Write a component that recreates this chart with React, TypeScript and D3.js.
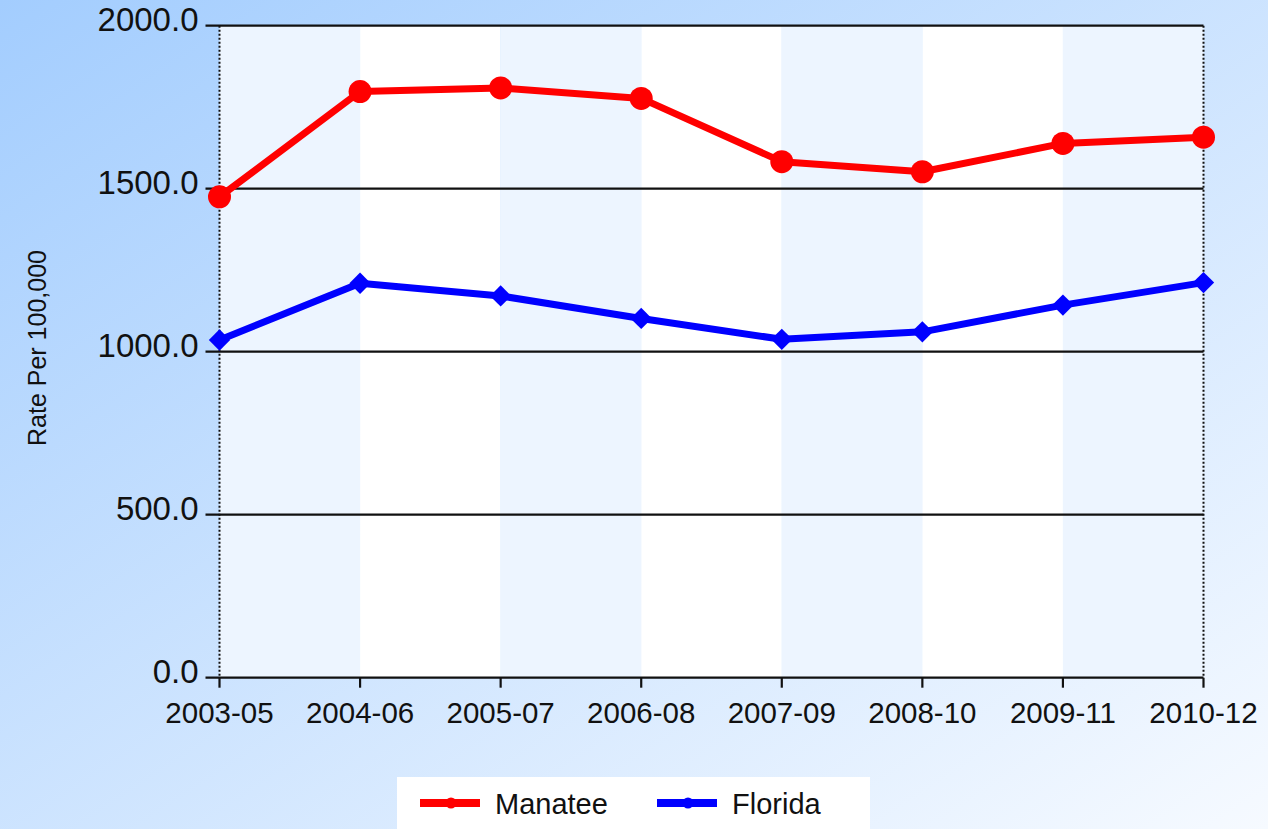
import React, { useEffect, useRef } from 'react';
import * as d3 from 'd3';

const periods = ['2003-05', '2004-06', '2005-07', '2006-08', '2007-09', '2008-10', '2009-11', '2010-12'];
const manatee = [1475, 1798, 1809, 1777, 1583, 1552, 1639, 1658];
const florida = [1036, 1210, 1171, 1102, 1038, 1061, 1143, 1212];
const yTicks = [0, 500, 1000, 1500, 2000];

const W = 1268;
const H = 829;
const FONT = '"Liberation Sans", Arial, sans-serif';

export default function App() {
    const ref = useRef<SVGSVGElement>(null);

    useEffect(() => {
        const svg = d3.select(ref.current);
        svg.selectAll('*').remove();

        const left = 219.5, right = 1203.5, top = 25.7, bottom = 677.7;

        const x = d3.scalePoint<string>().domain(periods).range([left, right]);
        const y = d3.scaleLinear().domain([0, 2000]).range([bottom, top]);

        // background gradient
        const defs = svg.append('defs');
        const grad = defs.append('linearGradient')
            .attr('id', 'bg')
            .attr('x1', '0%').attr('y1', '0%')
            .attr('x2', '100%').attr('y2', '100%');
        grad.append('stop').attr('offset', '0%').attr('stop-color', '#a3cdfe');
        grad.append('stop').attr('offset', '100%').attr('stop-color', '#f6faff');

        svg.append('rect').attr('width', W).attr('height', H).attr('fill', 'url(#bg)');

        // alternating column bands
        const step = x.step();
        svg.append('g').selectAll('rect')
            .data(periods.slice(0, -1))
            .join('rect')
            .attr('x', d => x(d)!)
            .attr('y', top)
            .attr('width', step)
            .attr('height', bottom - top)
            .attr('fill', (d, i) => (i % 2 === 0 ? '#edf5ff' : '#ffffff'));

        // horizontal grid lines + y ticks
        svg.append('g').selectAll('line')
            .data(yTicks)
            .join('line')
            .attr('x1', left - 14)
            .attr('x2', right)
            .attr('y1', d => y(d))
            .attr('y2', d => y(d))
            .attr('stroke', '#111')
            .attr('stroke-width', 2.2);

        svg.append('g').selectAll('text')
            .data(yTicks)
            .join('text')
            .attr('x', left - 21)
            .attr('y', d => y(d) - 3)
            .attr('text-anchor', 'end')
            .attr('dominant-baseline', 'middle')
            .style('font-family', FONT)
            .style('font-size', '33px')
            .attr('fill', '#111')
            .text(d => d.toFixed(1));

        // dotted vertical edges
        [left, right].forEach(xx => {
            svg.append('line')
                .attr('x1', xx).attr('x2', xx)
                .attr('y1', top).attr('y2', bottom)
                .attr('stroke', '#111')
                .attr('stroke-width', 2)
                .attr('stroke-dasharray', '2,2');
        });

        // x ticks and labels
        svg.append('g').selectAll('line')
            .data(periods)
            .join('line')
            .attr('x1', d => x(d)!)
            .attr('x2', d => x(d)!)
            .attr('y1', bottom)
            .attr('y2', bottom + 10)
            .attr('stroke', '#111')
            .attr('stroke-width', 2.2);

        svg.append('g').selectAll('text')
            .data(periods)
            .join('text')
            .attr('x', d => x(d)!)
            .attr('y', bottom + 45)
            .attr('text-anchor', 'middle')
            .style('font-family', FONT)
            .style('font-size', '29.5px')
            .attr('fill', '#111')
            .text(d => d);

        // y axis title
        svg.append('text')
            .attr('transform', `translate(46, 348) rotate(-90)`)
            .attr('text-anchor', 'middle')
            .style('font-family', FONT)
            .style('font-size', '25px')
            .attr('fill', '#111')
            .text('Rate Per 100,000');

        const line = d3.line<number>()
            .x((d, i) => x(periods[i])!)
            .y(d => y(d));

        // Manatee
        svg.append('path')
            .datum(manatee)
            .attr('fill', 'none')
            .attr('stroke', '#ff0000')
            .attr('stroke-width', 7)
            .attr('stroke-linejoin', 'round')
            .attr('d', line);
        svg.append('g').selectAll('circle')
            .data(manatee)
            .join('circle')
            .attr('cx', (d, i) => x(periods[i])!)
            .attr('cy', d => y(d))
            .attr('r', 11.5)
            .attr('fill', '#ff0000');

        // Florida
        svg.append('path')
            .datum(florida)
            .attr('fill', 'none')
            .attr('stroke', '#0000ff')
            .attr('stroke-width', 7)
            .attr('stroke-linejoin', 'round')
            .attr('d', line);
        const diamond = d3.symbol().type(d3.symbolDiamond2).size(290);
        svg.append('g').selectAll('path')
            .data(florida)
            .join('path')
            .attr('transform', (d, i) => `translate(${x(periods[i])},${y(d)})`)
            .attr('d', diamond)
            .attr('fill', '#0000ff');

        // legend
        const legend = svg.append('g');
        legend.append('rect')
            .attr('x', 397).attr('y', 777)
            .attr('width', 473).attr('height', 60)
            .attr('fill', '#ffffff');

        const items = [
            { name: 'Manatee', color: '#ff0000', x0: 420, tx: 495 },
            { name: 'Florida', color: '#0000ff', x0: 657, tx: 732 },
        ];
        items.forEach(it => {
            legend.append('line')
                .attr('x1', it.x0).attr('x2', it.x0 + 60)
                .attr('y1', 803).attr('y2', 803)
                .attr('stroke', it.color)
                .attr('stroke-width', 8);
            legend.append('circle')
                .attr('cx', it.x0 + 31).attr('cy', 803)
                .attr('r', 5.5)
                .attr('fill', it.color);
            legend.append('text')
                .attr('x', it.tx)
                .attr('y', 814)
                .style('font-family', FONT)
                .style('font-size', '29px')
                .attr('fill', '#111')
                .text(it.name);
        });
    }, []);

    return (
        <svg
            ref={ref}
            width={W}
            height={H}
            style={{ position: 'absolute', left: 0, top: 0, display: 'block' }}
        />
    );
}
